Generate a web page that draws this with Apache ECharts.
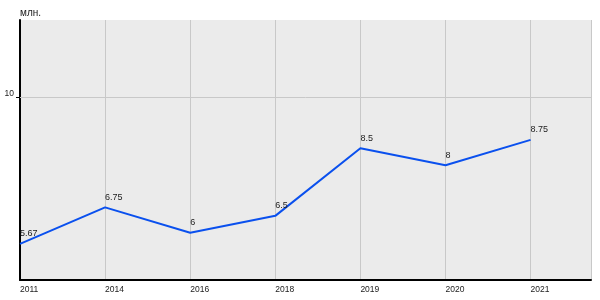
<!DOCTYPE html>
<html>
<head>
<meta charset="utf-8">
<script src="https://cdn.jsdelivr.net/npm/echarts@6/dist/echarts.min.js"></script>
<style>html,body{margin:0;padding:0;background:#fff}#c{width:600px;height:300px}</style>
</head>
<body>
<div id="c"></div>
<script>
const years = ['2011', '2014', '2016', '2018', '2019', '2020', '2021'];
const values = [5.67, 6.75, 6, 6.5, 8.5, 8, 8.75];
const yTickLabels = [10];
const unitLabel = 'млн.';

const FONT = 'Liberation Sans, Arial, sans-serif';
const chart = echarts.init(document.getElementById('c'), null, {renderer: 'canvas'});
chart.setOption({
  animation: false,
  backgroundColor: '#ffffff',
  title: {
    text: unitLabel, left: 15, top: 3,
    textStyle: {fontSize: 10, fontWeight: 'normal', color: '#222', fontFamily: FONT}
  },
  grid: {left: 20, right: 9, top: 20, bottom: 20, show: true, backgroundColor: '#EBEBEB', borderWidth: 0, containLabel: false},
  xAxis: {
    type: 'value', min: 0, max: 6.71, interval: 1,
    axisLine: {show: true, lineStyle: {color: '#000', width: 2}},
    axisTick: {show: false},
    axisLabel: {
      fontSize: 8.5, color: '#222', align: 'left', margin: 5, fontFamily: FONT,
      formatter: v => Number.isInteger(v) && years[v] !== undefined ? years[v] : ''
    },
    splitLine: {show: true, lineStyle: {color: '#c8c8c8', width: 1}}
  },
  yAxis: {
    type: 'value', min: 4.6, max: 12.3,
    axisLine: {show: true, lineStyle: {color: '#000', width: 2}},
    axisTick: {show: true, customValues: yTickLabels, length: 4, lineStyle: {color: '#000'}},
    axisLabel: {show: true, customValues: yTickLabels, fontSize: 8.5, color: '#222', margin: 6, verticalAlign: 'bottom', fontFamily: FONT},
    splitLine: {show: false}
  },
  series: [{
    type: 'line',
    data: values.map((v, i) => [i, v]),
    symbol: 'circle', symbolSize: 1, showSymbol: true,
    itemStyle: {color: 'rgba(0,0,0,0)', borderWidth: 0},
    lineStyle: {color: '#0a50ee', width: 2},
    label: {
      show: true, position: 'top', align: 'left', distance: 5,
      fontSize: 9, color: '#222', fontFamily: FONT,
      formatter: p => String(p.value[1])
    },
    markLine: {
      silent: true, symbol: 'none', label: {show: false},
      lineStyle: {color: '#c8c8c8', width: 1, type: 'solid'},
      data: yTickLabels.map(v => ({yAxis: v}))
    },
    z: 3
  }]
});
</script>
</body>
</html>
